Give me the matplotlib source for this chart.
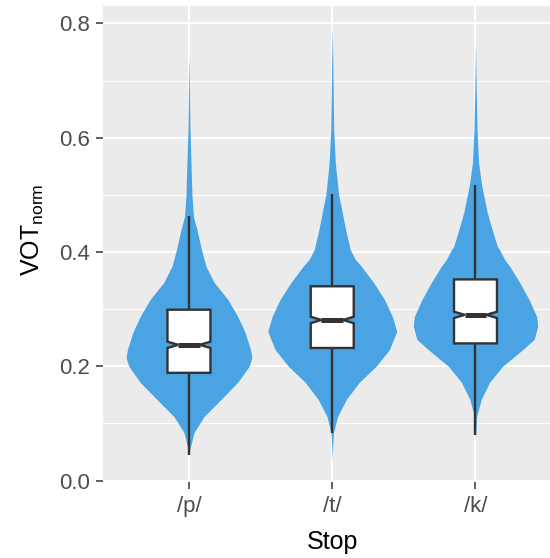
import numpy as np
import matplotlib.pyplot as plt

plt.rcParams['font.family'] = ['Liberation Sans', 'DejaVu Sans']
plt.rcParams['mathtext.fontset'] = 'custom'
plt.rcParams['mathtext.rm'] = 'Liberation Sans'
plt.rcParams['mathtext.it'] = 'Liberation Sans:italic'

stops = ['/p/', '/t/', '/k/']

# violin outlines: VOT value and relative half-width (1 = widest)
p_vot = [0.0455, 0.054, 0.084, 0.112, 0.142, 0.172, 0.200, 0.215, 0.229, 0.259, 0.287,
         0.317, 0.347, 0.375, 0.404, 0.439, 0.462, 0.497, 0.557, 0.614, 0.667, 0.747]
p_dens = [0.0, 0.012, 0.078, 0.233, 0.498, 0.757, 0.933, 0.975, 0.955, 0.871, 0.757,
          0.602, 0.389, 0.264, 0.194, 0.124, 0.07, 0.047, 0.031, 0.016, 0.009, 0.0]

t_vot = [0.035, 0.063, 0.084, 0.112, 0.142, 0.172, 0.200, 0.229, 0.261, 0.287, 0.317,
         0.347, 0.375, 0.387, 0.404, 0.439, 0.469, 0.501, 0.557, 0.614, 0.667, 0.737, 0.793]
t_dens = [0.0, 0.008, 0.019, 0.082, 0.218, 0.42, 0.68, 0.886, 1.0, 0.933, 0.809,
          0.638, 0.451, 0.358, 0.28, 0.207, 0.156, 0.098, 0.047, 0.023, 0.016, 0.008, 0.0]

k_vot = [0.072, 0.112, 0.142, 0.172, 0.200, 0.229, 0.247, 0.270, 0.287, 0.317, 0.347,
         0.375, 0.387, 0.404, 0.410, 0.439, 0.469, 0.518, 0.557, 0.614, 0.702, 0.767]
k_dens = [0.0, 0.016, 0.089, 0.218, 0.42, 0.731, 0.91, 0.964, 0.949, 0.829, 0.684,
          0.529, 0.451, 0.373, 0.337, 0.26, 0.182, 0.093, 0.047, 0.023, 0.008, 0.0]

# box statistics
whisk_lo = [0.0455, 0.084, 0.0805]
q1 = [0.1885, 0.232, 0.240]
median = [0.2375, 0.281, 0.290]
q3 = [0.299, 0.340, 0.352]
whisk_hi = [0.4627, 0.5007, 0.518]
notch = [0.0055, 0.0055, 0.0055]

violins = [(p_vot, p_dens), (t_vot, t_dens), (k_vot, k_dens)]

fig = plt.figure(figsize=(5.5, 5.58), dpi=100)
ax = fig.add_axes([103 / 550, 1 - 482 / 558, 447 / 550, 476 / 558])
ax.set_facecolor('#EBEBEB')
for s in ax.spines.values():
    s.set_visible(False)

dark = '#333333'
blue = '#4AA3E2'
hw = 0.15

for i, (vv, dd) in enumerate(violins):
    pos = i + 1
    vv = np.array(vv)
    dd = np.array(dd)
    ax.fill_betweenx(vv, pos - 0.45 * dd, pos + 0.45 * dd, color=blue, lw=0, zorder=2)
    # whiskers
    ax.plot([pos, pos], [q3[i], whisk_hi[i]], color=dark, lw=1.7, zorder=3,
            solid_capstyle='butt')
    ax.plot([pos, pos], [whisk_lo[i], q1[i]], color=dark, lw=1.7, zorder=3,
            solid_capstyle='butt')
    # notched box
    m = median[i]
    n = notch[i]
    xs = [pos - hw, pos - hw, pos - hw / 2, pos - hw, pos - hw,
          pos + hw, pos + hw, pos + hw / 2, pos + hw, pos + hw]
    ys = [q1[i], m - n, m, m + n, q3[i], q3[i], m + n, m, m - n, q1[i]]
    ax.fill(xs, ys, facecolor='white', edgecolor=dark, lw=1.7, zorder=4,
            joinstyle='miter')
    ax.plot([pos - hw / 2, pos + hw / 2], [m, m], color=dark, lw=3.6, zorder=5,
            solid_capstyle='butt')

ax.set_xlim(0.4, 3.52)
ax.set_ylim(-0.0026, 0.8306)
ax.set_xticks([1, 2, 3])
ax.set_xticklabels(stops)
ax.set_yticks([0.0, 0.2, 0.4, 0.6, 0.8])
ax.set_yticklabels(['0.0', '0.2', '0.4', '0.6', '0.8'])
ax.set_yticks([0.1, 0.3, 0.5, 0.7], minor=True)
ax.grid(True, which='major', color='white', lw=1.4, zorder=0)
ax.grid(True, which='minor', axis='y', color='white', lw=0.7, zorder=0)
ax.set_axisbelow(True)
ax.tick_params(which='major', length=5, width=1.1, color=dark, labelcolor='#4D4D4D',
               labelsize=16)
ax.tick_params(axis='y', pad=4)
ax.tick_params(axis='x', pad=5)
ax.tick_params(which='minor', length=0)

ax.set_xlabel('Stop', fontsize=18, color='black')
ax.xaxis.set_label_coords((332 - 103) / 447, -0.101)
ax.set_ylabel(r'VOT$_{\mathrm{norm}}$', fontsize=18, color='black')
ax.yaxis.set_label_coords(-0.128, 0.53)

fig.savefig('out.png', dpi=100)
